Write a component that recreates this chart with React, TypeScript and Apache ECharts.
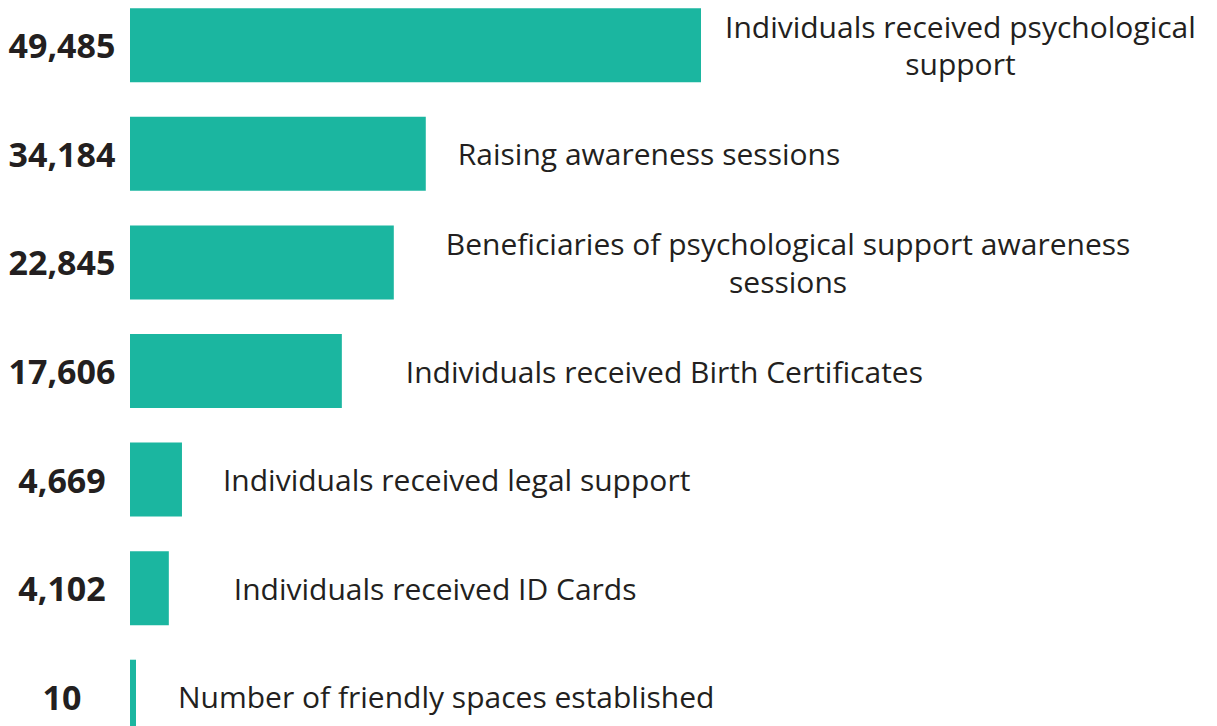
import React, { useEffect, useRef } from "react";
import * as echarts from "echarts";

// Reported totals (shown as the value labels)
const values: number[] = [49485, 34184, 22845, 17606, 4669, 4102, 10];

// Indicator names (shown to the right of each bar)
const categories: string[] = [
  "Individuals received psychological\nsupport",
  "Raising awareness sessions",
  "Beneficiaries of psychological support awareness\nsessions",
  "Individuals received Birth Certificates",
  "Individuals received legal support",
  "Individuals received ID Cards",
  "Number of friendly spaces established",
];

// Relative bar lengths as drawn in the infographic (% of the longest bar)
const barLengths: number[] = [100, 51.8, 46.2, 37.1, 9.1, 6.8, 1.05];

// Label styling per row (gap after the bar, line height for wrapped names)
const labelGap: number[] = [24, 32, 52, 64, 41, 65, 42];
const labelLineHeight: number[] = [37, 34, 38, 34, 34, 34, 34];

const TEAL = "#1bb6a0";
const INK = "#231f20";

export default function App() {
  const ref = useRef<HTMLDivElement>(null);

  useEffect(() => {
    if (!ref.current) return;
    const chart = echarts.init(ref.current, undefined, { renderer: "svg" });
    const valueLabels = values.map((v) => v.toLocaleString("en-US"));
    chart.setOption({
      animation: false,
      grid: { left: 130, width: 571, top: 0, bottom: 0, containLabel: false },
      xAxis: {
        type: "value",
        min: 0,
        max: 100,
        show: false,
      },
      yAxis: {
        type: "category",
        inverse: true,
        data: valueLabels,
        axisLine: { show: false },
        axisTick: { show: false },
        splitLine: { show: false },
        axisLabel: {
          margin: 68,
          align: "center",
          color: INK,
          fontFamily: "Open Sans",
          fontWeight: "bold",
          fontSize: 34,
          letterSpacing: -1.5,
        },
      },
      series: [
        {
          type: "bar",
          barWidth: 74,
          itemStyle: { color: TEAL },
          data: barLengths.map((len, i) => ({
            value: len,
            label: {
              distance: labelGap[i],
              formatter: categories[i]
                .split("\n")
                .map((line) => `{c|${line}}`)
                .join("\n"),
              rich: {
                c: {
                  align: "center",
                  color: INK,
                  fontFamily: "Open Sans",
                  fontSize: 30,
                  lineHeight: labelLineHeight[i],
                },
              },
            },
          })),
          label: {
            show: true,
            position: "right",
          },
        },
      ],
    });
    return () => chart.dispose();
  }, []);

  return (
    <div
      ref={ref}
      style={{ position: "fixed", left: 0, top: -9, width: 1217, height: 760, background: "#fff" }}
    />
  );
}
